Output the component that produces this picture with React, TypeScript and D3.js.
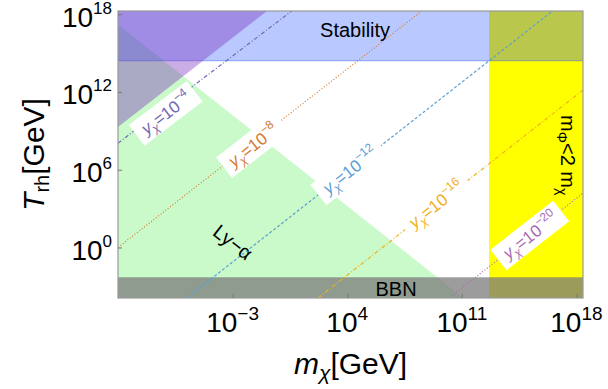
import React, { useEffect, useRef } from 'react';
import * as d3 from 'd3';

const W = 608;
const H = 389;
const margin = { top: 11, right: 25, bottom: 91, left: 118 };

// axes, log10 of GeV
const xDomain = [-10, 18.4];
const yDomain = [-3.9, 18.25];
const xTicks = [-3, 4, 11, 18];
const yTicks = [0, 6, 12, 18];

// excluded regions
const stabilityT = 14.41;
const phiMassM = 12.66;
const bbnT = -2.3;
const lyaM = [-10, 11.1];
const lyaT = [17.2, -3.9];
const hotM = [-10, -0.9];
const hotT = [9.3, 18.25];

// y_chi contours, endpoints
const yChiExp = [-4, -8, -12, -16, -20];
const yChiM0 = [-10, -10, -5.8, 2.22, 10.22];
const yChiT0 = [8.05, 0, -3.9, -3.9, -3.9];
const yChiM1 = [0.61, 8.55, 16.49, 18.4, 18.4];
const yChiT1 = [18.25, 18.25, 18.2, 12.15, 4.19];
const yChiColors = ['#6f69b8', '#d67a2c', '#5c9fd3', '#f2b01e', '#ab6cb3'];
const yChiDash = ['4,2,1,2', '1,2', '3,2', '4,2,1,2', '1,2'];
const labelM = [-7.07, -1.75, 4.17, 9.43, 15.17];
const labelT = [10.37, 7.89, 5.96, 3.33, 0.94];

export default function App() {
  const svgRef = useRef<SVGSVGElement>(null);

  useEffect(() => {
    const svg = d3.select(svgRef.current);
    svg.selectAll('*').remove();

    const x = d3.scaleLinear().domain(xDomain).range([margin.left, W - margin.right]);
    const y = d3.scaleLinear().domain(yDomain).range([H - margin.bottom, margin.top]);
    const [x0, x1] = x.range();
    const [y0, y1] = y.range();
    const font = 'Liberation Sans, Arial, sans-serif';

    svg.append('defs').append('clipPath').attr('id', 'plot')
      .append('rect').attr('x', x0).attr('y', y1).attr('width', x1 - x0).attr('height', y0 - y1);

    const g = svg.append('g').attr('clip-path', 'url(#plot)');
    const poly = (pts: number[][]) => pts.map(p => [x(p[0]), y(p[1])].join(',')).join(' ');

    // Ly-alpha
    g.append('polygon')
      .attr('points', poly([[lyaM[0], lyaT[0]], [lyaM[1], lyaT[1]], [xDomain[0], yDomain[0]]]))
      .attr('fill', 'rgb(202,250,202)');

    // m_phi < 2 m_chi
    g.append('rect')
      .attr('x', x(phiMassM)).attr('y', y1)
      .attr('width', x1 - x(phiMassM)).attr('height', y0 - y1)
      .attr('fill', '#ffff00');

    // stability
    g.append('rect')
      .attr('x', x0).attr('y', y1)
      .attr('width', x1 - x0).attr('height', y(stabilityT) - y1)
      .attr('fill', 'rgba(22,72,255,0.3)');
    g.append('line')
      .attr('x1', x0).attr('x2', x1).attr('y1', y(stabilityT)).attr('y2', y(stabilityT))
      .attr('stroke', 'rgba(40,80,255,0.45)').attr('stroke-width', 1);

    // T > m region
    g.append('polygon')
      .attr('points', poly([[hotM[0], hotT[0]], [hotM[1], hotT[1]], [xDomain[0], yDomain[1]]]))
      .attr('fill', 'rgba(125,50,190,0.4)');

    // BBN
    g.append('rect')
      .attr('x', x0).attr('y', y(bbnT))
      .attr('width', x1 - x0).attr('height', y0 - y(bbnT))
      .attr('fill', 'rgba(122,122,122,0.74)');

    // contours
    yChiExp.forEach((e, i) => {
      g.append('line')
        .attr('x1', x(yChiM0[i])).attr('y1', y(yChiT0[i]))
        .attr('x2', x(yChiM1[i])).attr('y2', y(yChiT1[i]))
        .attr('stroke', yChiColors[i]).attr('stroke-width', 1.2)
        .attr('stroke-dasharray', yChiDash[i]);
    });

    // contour labels
    yChiExp.forEach((e, i) => {
      const ang = Math.atan2(y(yChiT1[i]) - y(yChiT0[i]), x(yChiM1[i]) - x(yChiM0[i])) * 180 / Math.PI;
      const lg = g.append('g')
        .attr('transform', `translate(${x(labelM[i])},${y(labelT[i])}) rotate(${ang})`);
      const rect = lg.append('rect').attr('fill', 'white');
      const t = lg.append('text')
        .attr('font-family', font).attr('font-size', 17).attr('fill', yChiColors[i])
        .attr('text-anchor', 'middle').attr('y', 6);
      t.append('tspan').attr('font-style', 'italic').text('y');
      t.append('tspan').attr('font-style', 'italic').attr('font-size', 12).attr('dy', 4).text('χ');
      t.append('tspan').attr('dy', -4).text('=10');
      t.append('tspan').attr('font-size', 12).attr('dy', -8).text('\u2212' + (-e));
      const bb = (t.node() as SVGTextElement).getBBox();
      rect.attr('x', bb.x - 7).attr('y', -13).attr('width', bb.width + 14).attr('height', 26);
    });

    // region labels
    g.append('text')
      .attr('x', x(4.48)).attr('y', y(16.78) + 7)
      .attr('text-anchor', 'middle').attr('font-family', font).attr('font-size', 20)
      .text('Stability');
    g.append('text')
      .attr('x', x(6.98)).attr('y', y(-3.23) + 7)
      .attr('text-anchor', 'middle').attr('font-family', font).attr('font-size', 20)
      .text('BBN');
    g.append('text')
      .attr('transform', `translate(${x(-2.97)},${y(0.4)}) rotate(38)`)
      .attr('y', 7)
      .attr('text-anchor', 'middle').attr('font-family', font).attr('font-size', 20)
      .text('Ly\u2212α');
    const mp = g.append('text')
      .attr('transform', `translate(${x(16.82)},${y(7.12)}) rotate(90)`)
      .attr('y', -4)
      .attr('text-anchor', 'middle').attr('font-family', font).attr('font-size', 20);
    mp.append('tspan').text('m');
    mp.append('tspan').attr('font-size', 14).attr('dy', 4).text('Φ');
    mp.append('tspan').attr('dy', -4).text('<2 m');
    mp.append('tspan').attr('font-size', 14).attr('dy', 4).text('χ');

    // frame and ticks
    svg.append('rect')
      .attr('x', x0).attr('y', y1).attr('width', x1 - x0).attr('height', y0 - y1)
      .attr('fill', 'none').attr('stroke', '#999').attr('stroke-width', 1.2);

    const xa = svg.append('g').attr('transform', `translate(0,${y0})`)
      .call(d3.axisBottom(x).tickValues(xTicks).tickSize(-4).tickFormat(() => ''));
    xa.select('.domain').remove();
    xa.selectAll('line').attr('stroke', '#777');
    const ya = svg.append('g').attr('transform', `translate(${x0},0)`)
      .call(d3.axisLeft(y).tickValues(yTicks).tickSize(-4).tickFormat(() => ''));
    ya.select('.domain').remove();
    ya.selectAll('line').attr('stroke', '#777');

    const exp = (v: number) => (v < 0 ? '\u2212' + (-v) : String(v));

    xTicks.forEach(v => {
      const t = svg.append('text')
        .attr('x', x(v)).attr('y', y0 + 34)
        .attr('text-anchor', 'middle').attr('font-family', font).attr('font-size', 28);
      t.append('tspan').text('10');
      t.append('tspan').attr('font-size', 19).attr('dy', -12).text(exp(v));
    });
    yTicks.forEach(v => {
      const t = svg.append('text')
        .attr('x', x0 - 6).attr('y', y(v) + 12.5)
        .attr('text-anchor', 'end').attr('font-family', font).attr('font-size', 28);
      t.append('tspan').text('10');
      t.append('tspan').attr('font-size', 17).attr('dy', -13).text(exp(v));
    });

    // axis titles
    const xt = svg.append('text')
      .attr('x', (x0 + x1) / 2).attr('y', y0 + 76)
      .attr('text-anchor', 'middle').attr('font-family', font).attr('font-size', 30);
    xt.append('tspan').attr('font-style', 'italic').text('m');
    xt.append('tspan').attr('font-style', 'italic').attr('font-size', 21).attr('dy', 6).text('χ');
    xt.append('tspan').attr('dy', -6).text('[GeV]');

    const yt = svg.append('text')
      .attr('transform', `translate(44,${(y0 + y1) / 2}) rotate(-90)`)
      .attr('text-anchor', 'middle').attr('font-family', font).attr('font-size', 30);
    yt.append('tspan').attr('font-style', 'italic').text('T');
    yt.append('tspan').attr('font-size', 20).attr('dy', 5).text('rh');
    yt.append('tspan').attr('dy', -5).text('[GeV]');
  }, []);

  return (
    <svg
      ref={svgRef}
      width={W}
      height={H}
      style={{ position: 'absolute', left: 0, top: 0, background: 'white' }}
    />
  );
}
